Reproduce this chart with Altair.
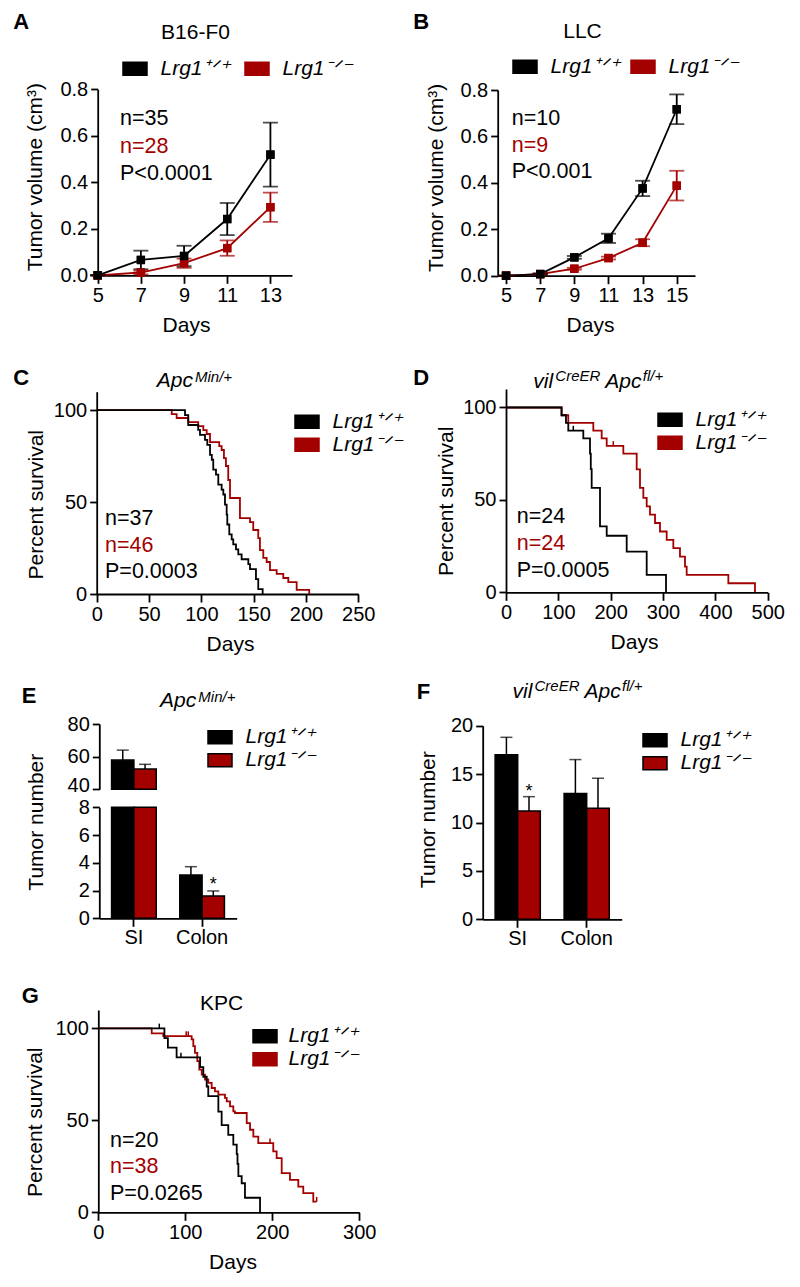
import altair as alt
import pandas as pd

FONT = "Liberation Sans"
RED = "#a30000"
WT = "Lrg1⁺ᐟ⁺"
KO = "Lrg1⁻ᐟ⁻"
GENOTYPES = [WT, KO]
GENO_COLORS = ["#000000", RED]

# ---------------- A: B16-F0 tumour growth ----------------
A_DAYS = [5, 7, 9, 11, 13]
A_WT_MEAN = [0.0, 0.066, 0.083, 0.242, 0.519]
A_WT_SEM = [0.0, 0.040, 0.044, 0.069, 0.138]
A_KO_MEAN = [0.0, 0.012, 0.052, 0.117, 0.293]
A_KO_SEM = [0.0, 0.008, 0.020, 0.033, 0.063]

# ---------------- B: LLC tumour growth ----------------
B_DAYS = [5, 7, 9, 11, 13, 15]
B_WT_MEAN = [0.0, 0.007, 0.079, 0.161, 0.376, 0.717]
B_WT_SEM = [0.0, 0.003, 0.006, 0.020, 0.033, 0.064]
B_KO_MEAN = [0.0, 0.007, 0.030, 0.076, 0.142, 0.388]
B_KO_SEM = [0.0, 0.002, 0.004, 0.006, 0.015, 0.064]

# ---------------- C: ApcMin/+ survival ----------------
C_WT_DAY = [0, 84.4, 87.5, 97, 98.7, 103.5, 105.7, 108.3, 110, 111.4, 114, 116.2, 119.4, 121,
            122.6, 124.2, 124.8, 126.7, 129, 130.5, 133.1, 135.3, 138.5, 144.9, 146.5, 152.2, 154.4, 158.6]
C_WT_PCT = [100, 97.3, 91.9, 89.2, 86.5, 83.8, 81.1, 75.7, 73.0, 67.6, 64.9, 59.5, 56.8, 54.1,
            48.6, 43.2, 37.8, 32.4, 29.7, 27.0, 24.3, 21.6, 18.9, 16.2, 13.5, 8.1, 2.7, 0]
C_KO_DAY = [0, 71.7, 76.4, 87.5, 97, 101.9, 105.1, 108.3, 117.1, 119.4, 121.6, 123.5, 125.7, 127.4,
            136.9, 146.5, 149.6, 154.4, 156, 159.2, 162.4, 165.6, 172, 178.3, 183.1, 191.1, 203.1]
C_KO_PCT = [100, 97.8, 95.7, 93.5, 91.3, 89.1, 87.0, 82.6, 80.4, 78.3, 73.9, 69.6, 62.0, 52.2,
            41.3, 39.1, 34.8, 30.4, 23.9, 19.6, 17.4, 13.0, 10.9, 8.7, 6.5, 2.2, 0]

# ---------------- D: vilCreER Apcfl/+ survival ----------------
D_WT_DAY = [0, 106, 114.6, 119, 147.7, 160.5, 162, 163.7, 179.6, 192.4, 230.6, 268.8, 305.7]
D_WT_PCT = [100, 95.8, 91.7, 87.5, 83.3, 75.0, 66.7, 56.5, 35.7, 30.6, 22.0, 9.4, 0]
D_KO_DAY = [0, 106.4, 119, 166.8, 182.8, 192.4, 224.2, 249.7, 256, 262.4, 268.8, 275.1, 284.7,
            294.2, 307, 319.7, 332.4, 342, 345.2, 424.8, 475.7]
D_KO_PCT = [100, 95.8, 91.7, 87.5, 83.3, 79.2, 75.0, 66.5, 56.5, 51.1, 46.5, 42.0, 37.5,
            32.9, 28.4, 23.9, 19.3, 13.9, 9.4, 4.9, 0]
D_WT_CENS_DAY = [128.6]
D_WT_CENS_PCT = [87.5]
D_KO_CENS_DAY = [205.0]
D_KO_CENS_PCT = [79.2]

# ---------------- E / F: tumour numbers ----------------
BAR_SITES = ["SI", "SI", "Colon", "Colon"]
BAR_GENO = [WT, KO, WT, KO]
E_MEAN = [57.9, 52.4, 3.12, 1.61]
E_SEM = [6.1, 2.9, 0.60, 0.36]
E_STAR = ["", "", "", "*"]
F_MEAN = [17.0, 11.2, 13.0, 11.47]
F_SEM = [1.8, 1.47, 3.5, 3.1]
F_STAR = ["", "*", "", ""]

# ---------------- G: KPC survival ----------------
G_WT_DAY = [0, 76, 80, 90, 117, 120.7, 124.6, 126.4, 138, 141.8, 149.4, 155.2, 159.1, 160, 161,
            164.8, 168.6, 185.9]
G_WT_PCT = [100, 94.7, 89.5, 84.2, 78.9, 73.7, 68.4, 63.2, 54.7, 47.4, 42.1, 36.8, 31.6, 26.3, 19.7,
            15.8, 7.9, 0]
G_KO_DAY = [0, 61.4, 74.7, 107.3, 109.2, 111.1, 113.8, 116.1, 118.9, 122.6, 126.4, 130.3, 134.1, 138,
            145.6, 147.6, 151.4, 155.2, 157.1, 170.6, 174.4, 178.2, 183.9, 201.1, 205, 210.8, 220.3,
            229.9, 235.6, 247.1, 251]
G_KO_PCT = [100, 97.3, 95.8, 94.0, 90.4, 86.7, 82.2, 77.6, 74.9, 72.2, 70.4, 67.6, 65.8, 64.0,
            62.2, 60.3, 57.6, 54.9, 54.0, 48.5, 44.9, 41.2, 37.6, 33.1, 29.5, 21.3, 17.6,
            14.0, 10.4, 5.8, 5.8]
G_WT_CENS_DAY = [70.1, 95.0]
G_WT_CENS_PCT = [100, 84.2]
G_KO_CENS_DAY = [101.0, 103.4, 197.4, 251]
G_KO_CENS_PCT = [95.8, 95.8, 37.6, 5.8]

RECT = "M-1,-0.54L1,-0.54L1,0.54L-1,0.54Z"
ONE = pd.DataFrame({"k": [0]})


def geno_scale():
    return alt.Scale(domain=GENOTYPES, range=GENO_COLORS)


def legend(x, y, direction="vertical", colpad=10, offset=12.5):
    return alt.Legend(title=None, orient="none", legendX=x, legendY=y, direction=direction,
                      symbolType=RECT, symbolSize=576, symbolStrokeColor="black",
                      symbolStrokeWidth=1.5, symbolOpacity=1, labelFont=FONT, labelFontSize=21,
                      labelFontStyle="italic", labelColor="black", labelOffset=offset,
                      columnPadding=colpad, rowPadding=0, padding=0, labelLimit=300)


def text_mark(s, x, y, size=21, color="black", weight="normal", style="normal", align="left"):
    return alt.Chart(ONE).mark_text(align=align, baseline="alphabetic", font=FONT, fontSize=size,
                                    fontWeight=weight, fontStyle=style, color=color).encode(
        x=alt.value(x), y=alt.value(y), text=alt.value(s))


def stats(x, y0, lines, step):
    return [text_mark(s, x, y0 + i * step, size=21.5, color=c) for i, (s, c) in enumerate(lines)]


def vil_title(x, y):
    # vil^CreER Apc^fl/+ written as base text with raised smaller pieces
    return [text_mark("vil", x, y, style="italic"),
            text_mark("CreER", x + 22, y - 7.6, size=15, style="italic"),
            text_mark("Apc", x + 72, y, style="italic"),
            text_mark("fl/+", x + 109.5, y - 7.6, size=15, style="italic")]


def apc_title(x, y):
    return [text_mark("Apc", x, y, style="italic"),
            text_mark("Min/+", x + 38.3, y - 5, size=15, style="italic")]


def x_axis_q(values, offset, title_x):
    return alt.Axis(values=values, format="d", offset=offset, tickSize=8, labelPadding=2,
                    title="Days", titleX=title_x, titleY=56, titleBaseline="alphabetic")


def y_axis_q(values, fmt, offset, title, title_x, title_y):
    return alt.Axis(values=values, format=fmt, offset=offset, tickSize=7, labelPadding=3,
                    title=title, titleX=title_x, titleY=title_y, titleBaseline="middle",
                    orient="left")


def growth_panel(days, wm, ws, km, ks, xdom, xrng, yrng, xticks, width, height, leg,
                 xtitle_x, ytitle_x, ytitle_y, extras):
    rows = []
    for g, m, s in ((KO, km, ks), (WT, wm, ws)):
        for d, mm, ss in zip(days, m, s):
            rows.append({"day": d, "g": g, "mean": mm, "sem": ss})
    base = alt.Chart(pd.DataFrame(rows)).transform_calculate(
        lo="datum.mean - datum.sem", hi="datum.mean + datum.sem")
    xs = alt.Scale(domain=xdom, range=xrng, nice=False, zero=False)
    ys = alt.Scale(domain=[0, 0.8], range=yrng, nice=False, zero=False)
    xa = x_axis_q(xticks, yrng[0] - height, xtitle_x)
    ya = y_axis_q([0, 0.2, 0.4, 0.6, 0.8], ".1f", -xrng[0], "Tumor volume (cm³)", ytitle_x, ytitle_y)

    def X():
        return alt.X("day:Q", scale=xs, axis=xa)

    def Y(f):
        return alt.Y(f, scale=ys, axis=ya)

    col = alt.Color("g:N", scale=geno_scale(), legend=None)
    pts = base.mark_square(size=70, opacity=1).encode(
        x=X(), y=Y("mean:Q"), fill=alt.Fill("g:N", scale=geno_scale(), legend=leg))
    line = base.mark_line(strokeWidth=1.8).encode(x=X(), y=Y("mean:Q"), color=col)
    err = base.mark_rule(strokeWidth=1.8).encode(x=X(), y=Y("lo:Q"), y2="hi:Q", color=col)
    cap_lo = base.mark_tick(orient="horizontal", size=15, thickness=1.8).encode(
        x=X(), y=Y("lo:Q"), color=col)
    cap_hi = base.mark_tick(orient="horizontal", size=15, thickness=1.8).encode(
        x=X(), y=Y("hi:Q"), color=col)
    return alt.layer(pts, line, err, cap_lo, cap_hi, pts, *extras).properties(width=width, height=height)


def km_panel(wd, wp, kd, kp, cwd, cwp, ckd, ckp, xdom, xrng, yrng, xticks, width, height, leg,
             xtitle_x, ytitle_x, ytitle_y, extras):
    df = pd.DataFrame({"day": kd + wd, "pct": kp + wp, "g": [KO] * len(kd) + [WT] * len(wd)})
    cens = pd.DataFrame({"day": ckd + cwd, "pct": ckp + cwp, "g": [KO] * len(ckd) + [WT] * len(cwd)})
    xs = alt.Scale(domain=xdom, range=xrng, nice=False, zero=False)
    ys = alt.Scale(domain=[0, 110], range=yrng, nice=False, zero=False)
    xa = x_axis_q(xticks, yrng[0] - height, xtitle_x)
    ya = y_axis_q([0, 50, 100], "d", -xrng[0], "Percent survival", ytitle_x, ytitle_y)
    col = alt.Color("g:N", scale=geno_scale(), legend=None)
    X = alt.X("day:Q", scale=xs, axis=xa)
    Y = alt.Y("pct:Q", scale=ys, axis=ya)
    carrier = alt.Chart(df).mark_square(opacity=0, size=10).encode(
        x=X, y=Y, fill=alt.Fill("g:N", scale=geno_scale(), legend=leg))
    line = alt.Chart(df).mark_line(interpolate="step-after", strokeWidth=1.8).encode(
        x=X, y=Y, color=col)
    layers = [carrier, line]
    if len(cens):
        layers.append(alt.Chart(cens).mark_point(shape="M0,-1L0,0", size=90, strokeWidth=1.5,
                                                 filled=False, opacity=1).encode(x=X, y=Y, color=col))
    return alt.layer(*layers, *extras).properties(width=width, height=height)


def bar_base(mean, sem, star):
    df = pd.DataFrame({"site": BAR_SITES, "g": BAR_GENO, "mean": mean, "sem": sem, "star": star})
    return alt.Chart(df).transform_calculate(hi="datum.mean + datum.sem", zero="0")


def bar_x(xrng, offset):
    return alt.X("site:N", scale=alt.Scale(domain=["SI", "Colon"], range=xrng, paddingInner=0.345,
                                           paddingOuter=0.18),
                 axis=alt.Axis(title=None, offset=offset, tickSize=8, labelPadding=1, labelAngle=0))


def bar_xo():
    return alt.XOffset("g:N", scale=alt.Scale(domain=GENOTYPES, paddingInner=0, paddingOuter=0))


# ---------------- panels ----------------
A = growth_panel(A_DAYS, A_WT_MEAN, A_WT_SEM, A_KO_MEAN, A_KO_SEM, [5, 14], [89.7, 284.0],
                 [267.3, 81.3], [5, 7, 9, 11, 13], 400, 340,
                 legend(114, 47.75, "horizontal", colpad=12), 178, -62, 168.7,
                 [text_mark("A", 5.3, 21.3, size=22, weight="bold"),
                  text_mark("B16-F0", 187.5, 31.3, align="center")]
                 + stats(112, 117, [("n=35", "black"), ("n=28", RED), ("P<0.0001", "black")], 27.5))

B = growth_panel(B_DAYS, B_WT_MEAN, B_WT_SEM, B_KO_MEAN, B_KO_SEM, [4.51, 16.07], [89.7, 287.0],
                 [267.7, 82.0], [5, 7, 9, 11, 13, 15], 384, 340,
                 legend(104, 45.75, "horizontal", colpad=8), 182, -61, 169.5,
                 [text_mark("B", 5.3, 21.3, size=22, weight="bold"),
                  text_mark("LLC", 174.5, 30.3, align="center")]
                 + stats(103.7, 117, [("n=10", "black"), ("n=9", RED), ("P<0.001", "black")], 26.7))

C = km_panel(C_WT_DAY, C_WT_PCT, C_KO_DAY, C_KO_PCT, [], [], [], [], [0, 250], [88.7, 350.3],
             [246, 43.7], [0, 50, 100, 150, 200, 250], 400, 320, legend(286, 60.75),
             222, -60, 156.2,
             [text_mark("C", 5.3, 37, size=22, weight="bold")] + apc_title(148.7, 38.7)
             + stats(97, 177, [("n=37", "black"), ("n=46", RED), ("P=0.0003", "black")], 26.7))

D = km_panel(D_WT_DAY, D_WT_PCT, D_KO_DAY, D_KO_PCT, D_WT_CENS_DAY, D_WT_CENS_PCT, D_KO_CENS_DAY,
             D_KO_CENS_PCT, [0, 500], [98, 359.7], [244.3, 41], [0, 100, 200, 300, 400, 500], 384, 320,
             legend(249, 58.75), 226, -59.3, 152.8,
             [text_mark("D", 5.3, 37, size=22, weight="bold")] + vil_title(125.3, 40.3)
             + stats(108.7, 175.3, [("n=24", "black"), ("n=24", RED), ("P=0.0005", "black")], 26.7))

# E: broken axis drawn as two y scales
eb = bar_base(E_MEAN, E_SEM, E_STAR)
EX = bar_x([91.3, 228.7], 250.3 - 300)
E_FILL = alt.Fill("g:N", scale=geno_scale(), legend=legend(199, 56.25))
yT = alt.Scale(domain=[40, 80], range=[121.3, 56], nice=False, zero=False)
yaT = alt.Axis(values=[40, 60, 80], orient="left", offset=-91.3, title=None, tickSize=7, labelPadding=3,
               labelOffset={"condition": {"test": "datum.value == 40", "value": -4}, "value": 0})
yB = alt.Scale(domain=[0, 8], range=[250.3, 139.3], nice=False, zero=False)
yaB = y_axis_q([0, 2, 4, 6, 8], "d", -91.3, "Tumor number", -62.6, 153.7)
top = eb.transform_filter("datum.mean > 40").transform_calculate(b40="40")
e_top = alt.layer(
    top.mark_bar(stroke="black", strokeWidth=1.5).encode(
        x=EX, xOffset=bar_xo(), y=alt.Y("b40:Q", scale=yT, axis=yaT), y2="mean:Q", fill=E_FILL),
    top.mark_rule(strokeWidth=1.5, color="black").encode(
        x=EX, xOffset=bar_xo(), y=alt.Y("mean:Q", scale=yT, axis=yaT), y2="hi:Q"),
    top.mark_tick(orient="horizontal", size=12, thickness=1.5, color="black").encode(
        x=EX, xOffset=bar_xo(), y=alt.Y("hi:Q", scale=yT, axis=yaT)),
)
low = eb.transform_calculate(low="min(datum.mean, 8)")
small = eb.transform_filter("datum.mean < 8")
e_bot = alt.layer(
    low.mark_bar(stroke="black", strokeWidth=1.5).encode(
        x=EX, xOffset=bar_xo(), y=alt.Y("zero:Q", scale=yB, axis=yaB), y2="low:Q", fill=E_FILL),
    small.mark_rule(strokeWidth=1.5, color="black").encode(
        x=EX, xOffset=bar_xo(), y=alt.Y("mean:Q", scale=yB, axis=yaB), y2="hi:Q"),
    small.mark_tick(orient="horizontal", size=12, thickness=1.5, color="black").encode(
        x=EX, xOffset=bar_xo(), y=alt.Y("hi:Q", scale=yB, axis=yaB)),
    small.mark_text(fontSize=18, font=FONT, baseline="alphabetic", dy=-1, color="black").encode(
        x=EX, xOffset=bar_xo(), y=alt.Y("hi:Q", scale=yB, axis=yaB), text="star:N"),
    text_mark("E", 13.7, 35.3, size=22, weight="bold"),
    *apc_title(152, 38.7),
)
E = alt.layer(e_top, e_bot).resolve_scale(y="independent").properties(width=400, height=300)

# F
fb = bar_base(F_MEAN, F_SEM, F_STAR)
FX = bar_x([74.7, 213.7], 251.3 - 300)
yF = alt.Scale(domain=[0, 20], range=[251.3, 57.7], nice=False, zero=False)
yaF = y_axis_q([0, 5, 10, 15, 20], "d", -74.7, "Tumor number", -54.4, 151.2)
F = alt.layer(
    fb.mark_bar(stroke="black", strokeWidth=1.5).encode(
        x=FX, xOffset=bar_xo(), y=alt.Y("zero:Q", scale=yF, axis=yaF), y2="mean:Q",
        fill=alt.Fill("g:N", scale=geno_scale(), legend=legend(234, 59.25))),
    fb.mark_rule(strokeWidth=1.5, color="black").encode(
        x=FX, xOffset=bar_xo(), y=alt.Y("mean:Q", scale=yF, axis=yaF), y2="hi:Q"),
    fb.mark_tick(orient="horizontal", size=12, thickness=1.5, color="black").encode(
        x=FX, xOffset=bar_xo(), y=alt.Y("hi:Q", scale=yF, axis=yaF)),
    fb.mark_text(fontSize=18, font=FONT, baseline="alphabetic", dy=0, color="black").encode(
        x=FX, xOffset=bar_xo(), y=alt.Y("hi:Q", scale=yF, axis=yaF), text="star:N"),
    text_mark("F", 8.7, 31.3, size=22, weight="bold"),
    *vil_title(104.5, 30.3),
).properties(width=384, height=300)

G = km_panel(G_WT_DAY, G_WT_PCT, G_KO_DAY, G_KO_PCT, G_WT_CENS_DAY, G_WT_CENS_PCT, G_KO_CENS_DAY,
             G_KO_CENS_PCT, [0, 300], [90.3, 351.3], [244.3, 42], [0, 100, 200, 300], 400, 310,
             legend(244, 55.25, offset=10.5), 224.5, -63.3, 153.7,
             [text_mark("G", 13.7, 35.3, size=22, weight="bold"),
              text_mark("KPC", 213.7, 42, align="center")]
             + stats(102, 178.7, [("n=20", "black"), ("n=38", RED), ("P=0.0265", "black")], 26.7))

chart = alt.concat(A, B, C, D, E, F, G, columns=2, spacing=0, bounds="flush", align="each").resolve_scale(
    x="independent", y="independent", color="independent", fill="independent", xOffset="independent"
).resolve_legend(fill="independent", color="independent").properties(padding=0).configure(
    font=FONT
).configure_view(stroke=None).configure_axis(
    domainColor="black", domainWidth=1.8, tickColor="black", tickWidth=1.8, labelColor="black",
    titleColor="black", labelFont=FONT, titleFont=FONT, labelFontSize=20, titleFontSize=21,
    titleFontWeight="normal", grid=False, labelFlush=False, labelOverlap=False, labelBound=False
)

chart.save("out.html", embed_options={"renderer": "svg", "actions": False})
